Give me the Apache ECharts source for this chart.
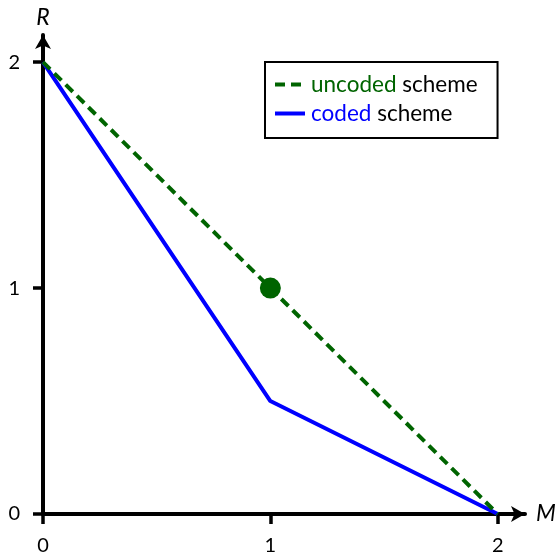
<!DOCTYPE html>
<html>
<head>
<meta charset="utf-8">
<script src="https://cdn.jsdelivr.net/npm/echarts@6/dist/echarts.min.js"></script>
<style>
  html, body { margin: 0; padding: 0; background: #fff; }
  #chart { width: 560px; height: 556px; }
</style>
</head>
<body>
<div id="chart"></div>
<script>
// Rate R versus memory M
const tickValues = [0, 1, 2];
const uncodedM = [0, 2];
const uncodedR = [2, 0];
const uncodedPointM = [1];
const uncodedPointR = [1];
const codedM = [0, 1, 2];
const codedR = [2, 0.5, 0];

const GREEN = '#006400';
const BLUE = '#0000ff';
const FONT = 'Lato';
const LEGEND_SIZE = 22.5;
const TICK_SIZE = 20;
const NAME_SIZE = 23;

const zip = (xs, ys) => xs.map((x, i) => [x, ys[i]]);

const chart = echarts.init(document.getElementById('chart'), null, { renderer: 'canvas' });

function makeAxis(name, nameGap, labelMargin) {
  return {
    type: 'value',
    min: 0,
    max: 2.12,
    interval: 1,
    name: name,
    nameLocation: 'end',
    nameGap: nameGap,
    nameTextStyle: {
      fontFamily: FONT,
      fontStyle: 'italic',
      fontSize: NAME_SIZE,
      lineHeight: 24,
      color: '#000'
    },
    splitLine: { show: false },
    axisLine: {
      show: true,
      onZero: false,
      symbol: ['none', 'arrow'],
      symbolSize: [12, 14],
      lineStyle: { color: '#000', width: 4 }
    },
    axisTick: {
      show: true,
      length: 10,
      inside: false,
      customValues: tickValues,
      lineStyle: { color: '#000', width: 3.5 }
    },
    axisLabel: {
      show: true,
      margin: labelMargin,
      formatter: v => (tickValues.indexOf(v) >= 0 ? '{t|' + v + '}' : ''),
      color: '#000',
      fontFamily: FONT,
      fontSize: TICK_SIZE,
      rich: {
        t: { fontFamily: FONT, fontSize: TICK_SIZE, lineHeight: 22, color: '#000' }
      }
    }
  };
}

chart.setOption({
  animation: false,
  backgroundColor: '#fff',
  grid: { left: 43, right: 35, top: 35, bottom: 41, containLabel: false },
  xAxis: makeAxis('M', 11, 21),
  yAxis: makeAxis('R', 5, 23),
  legend: {
    orient: 'vertical',
    left: 265,
    top: 62,
    padding: [11, 20, 13, 8],
    itemWidth: 30,
    itemHeight: 16,
    itemGap: 6,
    borderColor: '#000',
    borderWidth: 2,
    backgroundColor: '#fff',
    itemStyle: { opacity: 0 },
    lineStyle: { width: 4 },
    data: ['uncoded', 'coded'],
    formatter: name => name === 'uncoded' ? '{g|uncoded} {k|scheme}' : '{b|coded} {k|scheme}',
    textStyle: {
      fontFamily: FONT,
      fontSize: LEGEND_SIZE,
      padding: [0, 0, 0, 1],
      rich: {
        g: { color: GREEN, fontFamily: FONT, fontSize: LEGEND_SIZE, lineHeight: 22 },
        b: { color: BLUE, fontFamily: FONT, fontSize: LEGEND_SIZE, lineHeight: 22 },
        k: { color: '#000', fontFamily: FONT, fontSize: LEGEND_SIZE, lineHeight: 22 }
      }
    }
  },
  series: [
    {
      name: 'uncoded',
      type: 'line',
      data: zip(uncodedM, uncodedR),
      symbol: 'none',
      color: GREEN,
      lineStyle: { color: GREEN, width: 4, type: [10, 6] },
      z: 3
    },
    {
      name: 'uncoded point',
      type: 'scatter',
      data: zip(uncodedPointM, uncodedPointR),
      symbol: 'circle',
      symbolSize: 21,
      itemStyle: { color: GREEN, opacity: 1 },
      z: 4
    },
    {
      name: 'coded',
      type: 'line',
      data: zip(codedM, codedR),
      symbol: 'none',
      color: BLUE,
      lineStyle: { color: BLUE, width: 4 },
      z: 2
    }
  ]
});
</script>
</body>
</html>
